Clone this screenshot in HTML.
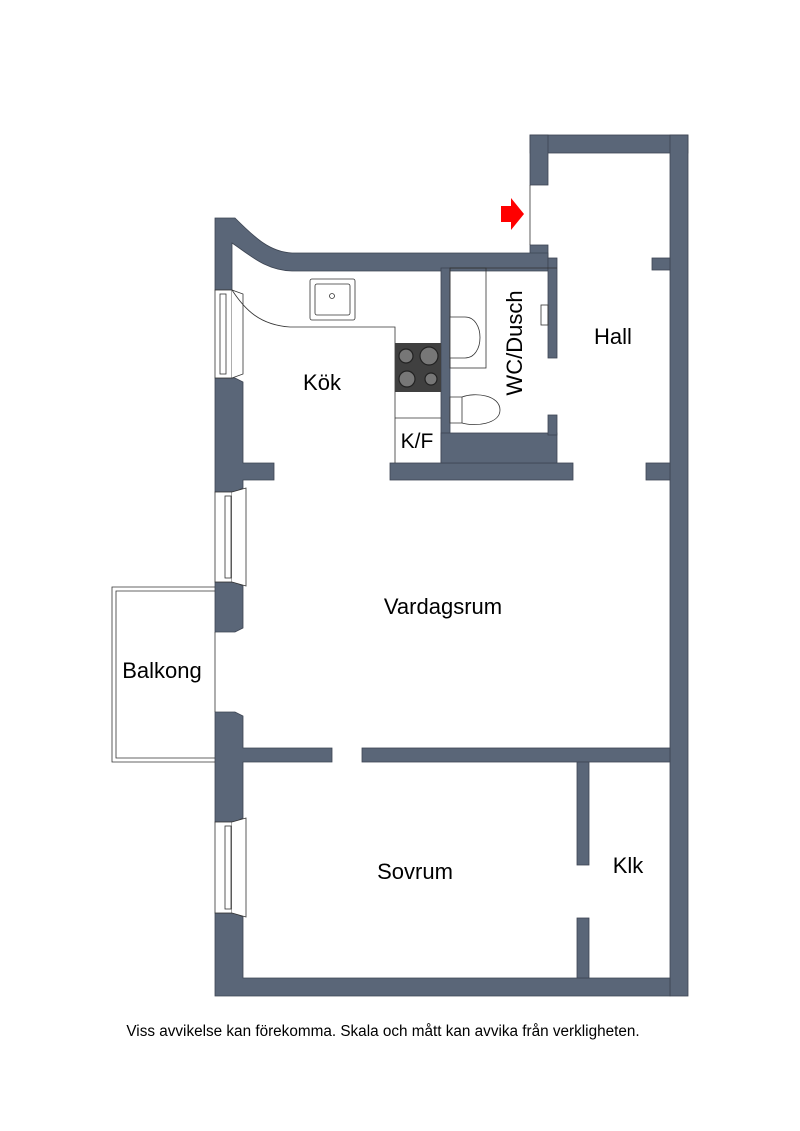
<!DOCTYPE html>
<html><head><meta charset="utf-8"><style>
html,body{margin:0;padding:0;background:#fff;}
svg{display:block;}
text{font-family:"Liberation Sans",sans-serif;fill:#000;}
</style></head><body>
<svg width="800" height="1131" viewBox="0 0 800 1131" xmlns="http://www.w3.org/2000/svg">
<g fill="#5a6678" stroke="#3d4553" stroke-width="0.8">
<rect x="530" y="135" width="158" height="18"/>
<rect x="670" y="135" width="18" height="861"/>
<rect x="530" y="135" width="18" height="50"/>
<rect x="530" y="245" width="18" height="17"/>
<rect x="652" y="258" width="18" height="12"/>
<rect x="646" y="463" width="24" height="17"/>
<path d="M215,218 L235,218 C255,238 270,252 292,253 L548,253 L548,271 L292,271 C265,270 250,255 232,243 L232,290 L215,290 Z"/>
<path d="M215,378 L235,378 L243,382 L243,463 L274,463 L274,480 L243,480 L243,488 L235,492 L215,492 Z"/>
<path d="M215,582 L235,582 L243,586 L243,628 L235,632 L215,632 Z"/>
<path d="M215,712 L235,712 L243,716 L243,748 L332,748 L332,762 L243,762 L243,818 L235,822 L215,822 Z"/>
<path d="M215,913 L235,913 L243,917 L243,978 L670,978 L670,996 L215,996 Z"/>
<rect x="441" y="268" width="9" height="195"/>
<rect x="390" y="463" width="183" height="17"/>
<rect x="441" y="433" width="116" height="30"/>
<rect x="548" y="258" width="9" height="100"/>
<rect x="548" y="415" width="9" height="20"/>
<rect x="362" y="748" width="308" height="14"/>
<rect x="577" y="762" width="12" height="103"/>
<rect x="577" y="918" width="12" height="60"/>
</g>
<g fill="#fff" stroke="#333" stroke-width="0.8">
<rect x="215" y="290" width="17" height="88"/>
<rect x="220" y="294" width="6" height="80"/>
<path d="M232,290 L243,294 L243,374 L232,378"/>
<rect x="215" y="492" width="17" height="90"/>
<rect x="225" y="496" width="6" height="82"/>
<path d="M232,492 L246,488 L246,586 L232,582"/>
<rect x="215" y="822" width="17" height="91"/>
<rect x="225" y="826" width="6" height="83"/>
<path d="M232,822 L246,818 L246,917 L232,913"/>
<line x1="215" y1="632" x2="215" y2="712"/>
<line x1="530" y1="185" x2="530" y2="245"/>
<path d="M215,587 L112,587 L112,762 L215,762" fill="none"/>
<path d="M215,591 L116,591 L116,758 L215,758" fill="none"/>
<path d="M232,290 C245,310 260,325 290,327 L395,327 L395,463" fill="none"/>
<line x1="395" y1="418" x2="441" y2="418"/>
<rect x="310" y="279" width="45" height="41" rx="2"/>
<rect x="315" y="284" width="35" height="31" rx="2"/>
<circle cx="332" cy="296" r="2.5"/>
<line x1="450" y1="268" x2="557" y2="268"/>
<rect x="450" y="268" width="36" height="100" fill="none"/>
<path d="M450,317 L465,317 C485,317 485,358 465,358 L450,358 Z"/>
<path d="M450,397 L462,397 C475,392 500,395 500,410 C500,424 475,427 462,423 L450,423 Z"/>
<line x1="462" y1="397" x2="462" y2="423"/>
</g>
<rect x="395" y="343" width="46" height="49" fill="#404040"/>
<g fill="#777" stroke="#222" stroke-width="1.2">
<circle cx="406" cy="356" r="7"/><circle cx="429" cy="356" r="9"/>
<circle cx="407" cy="379" r="8"/><circle cx="431" cy="379" r="6"/>
</g>
<rect x="541" y="305" width="7" height="20" fill="none" stroke="#333" stroke-width="0.8"/>
<path d="M501,206 L511,206 L511,198 L524,214 L511,230 L511,222 L501,222 Z" fill="#f00"/>
<g font-size="22" text-anchor="middle">
<text x="322" y="390">Kök</text>
<text x="613" y="344">Hall</text>
<text x="417" y="448" font-size="21">K/F</text>
<text transform="translate(522,343) rotate(-90)">WC/Dusch</text>
<text x="443" y="614">Vardagsrum</text>
<text x="162" y="678">Balkong</text>
<text x="415" y="879">Sovrum</text>
<text x="628" y="873">Klk</text>
</g>
<text x="383" y="1036" font-size="15.3" text-anchor="middle">Viss avvikelse kan förekomma. Skala och mått kan avvika från verkligheten.</text>
</svg>
</body></html>
